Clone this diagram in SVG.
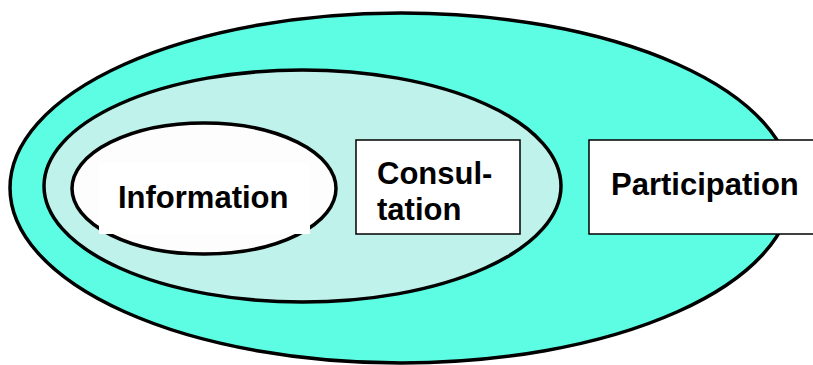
<svg xmlns="http://www.w3.org/2000/svg" width="813" height="365" viewBox="0 0 813 365">
<style>
.lbl{font-family:"Liberation Sans",Arial,sans-serif;font-weight:bold;font-size:31px;fill:#000}
.box{fill:#fff;stroke:#000;stroke-width:1.5}
</style>
<rect width="813" height="365" fill="#fff"/>
<g id="participation-ring">
<ellipse cx="401" cy="188" rx="391" ry="175" fill="#5cfde3" stroke="#000" stroke-width="3.5"/>
</g>
<g id="consultation-ring">
<ellipse cx="302.5" cy="186" rx="258.5" ry="116" fill="#bef2eb" stroke="#000" stroke-width="3.5"/>
</g>
<g id="information">
<ellipse cx="204" cy="188.5" rx="132" ry="65.5" fill="#fdfdfd" stroke="#000" stroke-width="3.5"/>
<rect x="99" y="163" width="211" height="71" fill="#fff"/>
<text class="lbl" x="118" y="208">Information</text>
</g>
<g id="consultation">
<rect class="box" x="356" y="140" width="164" height="94"/>
<text class="lbl" x="377" y="184">Consul-</text>
<text class="lbl" x="377" y="220">tation</text>
</g>
<g id="participation">
<rect class="box" x="589" y="140" width="230" height="94"/>
<text class="lbl" x="611" y="195">Participation</text>
</g>
<g id="connectors"/>
</svg>
